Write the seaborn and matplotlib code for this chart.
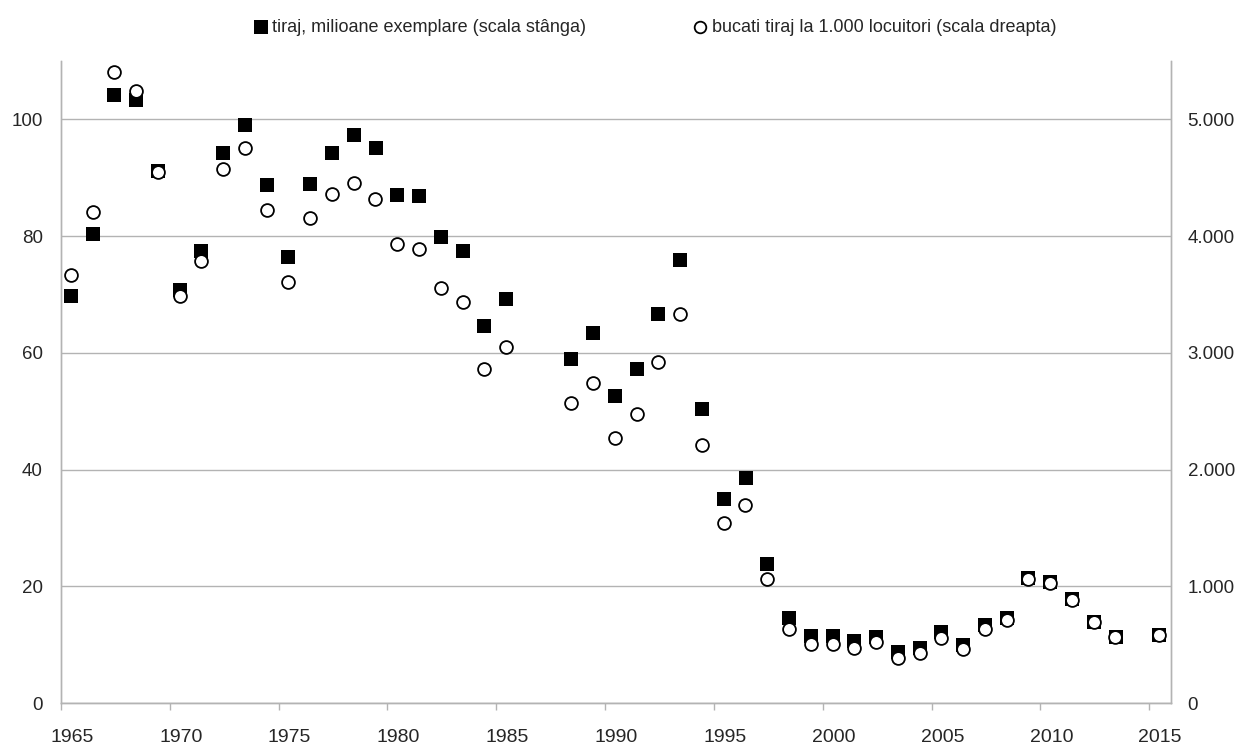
import matplotlib
matplotlib.use('Agg')
import matplotlib.pyplot as plt
import matplotlib.transforms as mtransforms
from matplotlib.ticker import FuncFormatter
import seaborn as sns
import pandas as pd

# ani (lipsesc 1986, 1987 si 2014)
ani = list(range(1965, 1986)) + list(range(1988, 2014)) + [2015]

# tiraj, milioane exemplare (scala stanga)
tiraj = [69.7, 80.4, 104.1, 103.3, 91.1, 70.8, 77.4, 94.3, 99.1, 88.7,
         76.5, 89.0, 94.3, 97.4, 95.1, 87.1, 86.9, 79.8, 77.4, 64.6, 69.3,
         59.0, 63.4, 52.6, 57.2, 66.7, 75.9, 50.3, 35.0, 38.5, 23.8,
         14.5, 11.5, 11.5, 10.6, 11.3, 8.7, 9.5, 12.1, 9.9, 13.3, 14.5,
         21.5, 20.8, 17.8, 13.8, 11.3, 11.7]

# bucati tiraj la 1.000 locuitori (scala dreapta)
bucati = [3667, 4203, 5406, 5243, 4549, 3486, 3786, 4571, 4757, 4220,
          3606, 4154, 4357, 4454, 4314, 3929, 3889, 3557, 3434, 2863, 3054,
          2566, 2743, 2266, 2474, 2920, 3334, 2214, 1543, 1700, 1060,
          637, 509, 503, 470, 520, 389, 431, 554, 460, 634, 709,
          1060, 1026, 883, 691, 566, 586]

eticheta_stanga = 'tiraj, milioane exemplare (scala stânga)'
eticheta_dreapta = 'bucati tiraj la 1.000 locuitori (scala dreapta)'

df = pd.DataFrame({'an': ani, 'tiraj': tiraj, 'bucati': bucati})
df['x'] = df['an'] + 0.45  # punctele stau la mijlocul anului

sns.set_style('white')
plt.rcParams['font.family'] = ['Liberation Sans', 'DejaVu Sans']

GRI = '#b3b3b3'
W, H = 1241, 748
fig = plt.figure(figsize=(W / 100, H / 100), dpi=100)
ax = fig.add_axes([61 / W, 45 / H, 1110 / W, 642 / H])

sns.scatterplot(data=df, x='x', y='tiraj', marker='s', s=105, color='black',
                edgecolor='black', linewidth=0, ax=ax, legend=False, zorder=3)
ax2 = ax.twinx()
sns.scatterplot(data=df, x='x', y='bucati', marker='o', s=85, color='white',
                edgecolor='black', linewidth=1.3, ax=ax2, legend=False, zorder=3)

ax.set_xlim(1965, 2016)
ax.set_ylim(0, 110)
ax2.set_ylim(0, 5500)
ax.set_xticks(range(1965, 2016, 5))
ax.set_yticks(range(0, 101, 20))
ax2.set_yticks(range(0, 5001, 1000))
ax2.yaxis.set_major_formatter(FuncFormatter(lambda v, p: f'{int(v):,}'.replace(',', '.')))

ax.grid(axis='y', color=GRI, lw=1)
ax.grid(axis='x', visible=False)
ax.set_axisbelow(True)
for a in (ax, ax2):
    a.set_xlabel('')
    a.set_ylabel('')
    a.spines['top'].set_visible(False)
    for s in ('left', 'right', 'bottom'):
        a.spines[s].set_color(GRI)
        a.spines[s].set_linewidth(1)

# pad si length sunt in puncte (1 pt = 1.39 px la 100 dpi)
ax.tick_params(axis='x', bottom=True, length=5, width=1, color=GRI, pad=13.5, labelsize=14)
ax.tick_params(axis='y', length=0, pad=13, labelsize=13.5)
ax2.tick_params(axis='y', length=0, pad=12, labelsize=13.5)

# etichetele anilor sunt usor deplasate la dreapta, ca in original
offset = mtransforms.ScaledTranslation(11 / 100, 0, fig.dpi_scale_trans)
for lbl in ax.get_xticklabels():
    lbl.set_transform(lbl.get_transform() + offset)

leg = fig.legend([ax.collections[0], ax2.collections[0]], [eticheta_stanga, eticheta_dreapta],
                 loc='center', bbox_to_anchor=(654 / W, 1 - 27 / H), ncol=2, frameon=False,
                 fontsize=13, handlelength=1, handletextpad=0.15, columnspacing=5.8,
                 scatterpoints=1, borderaxespad=0)
leg.legend_handles[1].set_sizes([70])

plt.savefig('out.png', dpi=100)
plt.close()
